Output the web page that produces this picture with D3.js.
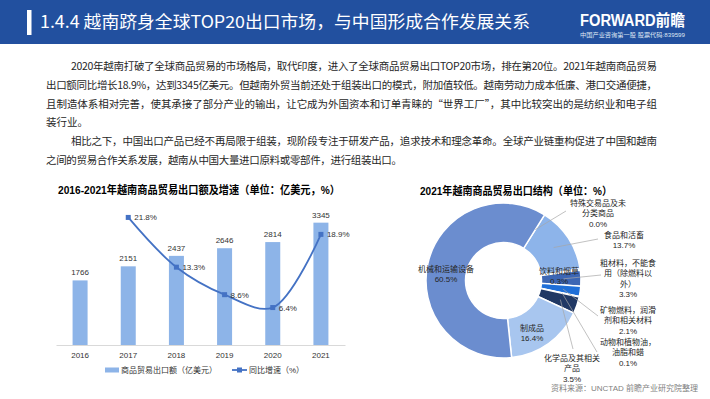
<!DOCTYPE html>
<html>
<head>
<meta charset="utf-8">
<script src="https://cdn.jsdelivr.net/npm/d3@7"></script>
<style>
  body { margin: 0; background: #fff; }
  svg { display: block; font-family: "Liberation Sans", "Noto Sans CJK SC", sans-serif; }
</style>
</head>
<body>
<script>
// data
var years = ["2016", "2017", "2018", "2019", "2020", "2021"];
var exportValues = [1766, 2151, 2437, 2646, 2814, 3345];
var growthRates = [null, 21.8, 13.3, 8.6, 6.4, 18.9];

var structureNames = ["特殊交易品及未分类商品", "食品和活畜", "饮料和烟草", "粗材料，不能食用（除燃料以外）",
  "矿物燃料，润滑剂和相关材料", "动物和植物油，油脂和蜡", "化学品及其相关产品", "制成品", "机械和运输设备"];
var structureShares = [0.0, 13.7, 0.3, 3.3, 2.1, 0.1, 3.5, 16.4, 60.5];

var headerTitle = "1.4.4 越南跻身全球TOP20出口市场，与中国形成合作发展关系";
var paragraphLines = [
  "2020年越南打破了全球商品贸易的市场格局，取代印度，进入了全球商品贸易出口TOP20市场，排在第20位。2021年越南商品贸易",
  "出口额同比增长18.9%，达到3345亿美元。但越南外贸当前还处于组装出口的模式，附加值较低。越南劳动力成本低廉、港口交通便捷，",
  "且制造体系相对完善，使其承接了部分产业的输出，让它成为外国资本和订单青睐的“世界工厂”，其中比较突出的是纺织业和电子组",
  "装行业。",
  "相比之下，中国出口产品已经不再局限于组装，现阶段专注于研发产品，追求技术和理念革命。全球产业链重构促进了中国和越南",
  "之间的贸易合作关系发展，越南从中国大量进口原料或零部件，进行组装出口。"
];

var W = 710, H = 399;
var svg = d3.select("body").append("svg").attr("width", W).attr("height", H);

// header band
svg.append("rect").attr("x", 0).attr("y", 0).attr("width", W).attr("height", 44).attr("fill", "#22509f");
svg.append("rect").attr("x", 27).attr("y", 10).attr("width", 4.5).attr("height", 25).attr("fill", "#fff");
svg.append("text")
  .attr("x", 40).attr("y", 28)
  .attr("fill", "#fff")
  .attr("font-size", 17)
  .attr("textLength", 490).attr("lengthAdjust", "spacingAndGlyphs")
  .style("font-family", "'Noto Sans CJK SC', sans-serif")
  .text(headerTitle);
svg.append("text")
  .attr("x", 580).attr("y", 26)
  .attr("fill", "#fff").attr("font-size", 16).attr("font-weight", "bold")
  .attr("textLength", 105).attr("lengthAdjust", "spacingAndGlyphs")
  .text("FORWARD前瞻");
svg.append("text")
  .attr("x", 580).attr("y", 37)
  .attr("fill", "#dfe6f3").attr("font-size", 6)
  .attr("textLength", 105).attr("lengthAdjust", "spacingAndGlyphs")
  .text("中国产业咨询第一股  股票代码:839599");

// paragraph
var paraX = [71, 46, 46, 46, 71, 46];
var paraEnd = [657, 657, 657, null, 657, 402];
paragraphLines.forEach(function(line, i) {
  var t = svg.append("text")
    .attr("x", paraX[i]).attr("y", 70 + i * 18.8)
    .attr("font-size", 10.5).attr("fill", "#262626")
    .style("font-family", "'Noto Sans CJK SC', sans-serif")
    .text(line);
  if (paraEnd[i]) t.attr("textLength", paraEnd[i] - paraX[i]).attr("lengthAdjust", "spacing");
});

// ---------- left chart: bars + growth line ----------
var xScale = d3.scaleBand().domain(years).range([56, 345]);
var yScale = d3.scaleLinear().domain([0, 4000]).range([345, 198.7]);
var y2Scale = d3.scaleLinear().domain([0, 25]).range([345, 198.7]);
var barW = 15;

svg.append("text")
  .attr("x", 199).attr("y", 194)
  .attr("text-anchor", "middle").attr("font-size", 11).attr("font-weight", "bold").attr("fill", "#000")
  .attr("textLength", 282).attr("lengthAdjust", "spacingAndGlyphs")
  .text("2016-2021年越南商品贸易出口额及增速（单位：亿美元，%）");

var barData = years.map(function(y, i) { return { year: y, value: exportValues[i], rate: growthRates[i] }; });

svg.selectAll("rect.bar").data(barData).enter().append("rect")
  .attr("class", "bar")
  .attr("x", function(d) { return xScale(d.year) + xScale.bandwidth() / 2 - barW / 2; })
  .attr("y", function(d) { return yScale(d.value); })
  .attr("width", barW)
  .attr("height", function(d) { return yScale(0) - yScale(d.value); })
  .attr("fill", "#8db4e8");

svg.selectAll("text.barlabel").data(barData).enter().append("text")
  .attr("class", "barlabel")
  .attr("x", function(d) { return xScale(d.year) + xScale.bandwidth() / 2; })
  .attr("y", function(d) { return yScale(d.value) - 5; })
  .attr("text-anchor", "middle").attr("font-size", 8).attr("fill", "#333")
  .text(function(d) { return d.value; });

// x axis
var xAxis = d3.axisBottom(xScale).tickSize(0).tickPadding(7);
var gx = svg.append("g").attr("transform", "translate(0,345)").call(xAxis);
gx.select(".domain").attr("stroke", "#d9d9d9");
gx.selectAll("text").attr("font-size", 8).attr("fill", "#333").style("font-family", "'Liberation Sans', sans-serif");

// growth line
var lineData = barData.filter(function(d) { return d.rate != null; });
var line = d3.line()
  .x(function(d) { return xScale(d.year) + xScale.bandwidth() / 2; })
  .y(function(d) { return y2Scale(d.rate); })
  .curve(d3.curveCatmullRom.alpha(0.5));
svg.append("path").datum(lineData)
  .attr("d", line).attr("fill", "none").attr("stroke", "#4472c4").attr("stroke-width", 1.8);
svg.selectAll("rect.marker").data(lineData).enter().append("rect")
  .attr("class", "marker")
  .attr("x", function(d) { return xScale(d.year) + xScale.bandwidth() / 2 - 2.5; })
  .attr("y", function(d) { return y2Scale(d.rate) - 2.5; })
  .attr("width", 5).attr("height", 5).attr("fill", "#4472c4");
svg.selectAll("text.ratelabel").data(lineData).enter().append("text")
  .attr("class", "ratelabel")
  .attr("x", function(d) { return xScale(d.year) + xScale.bandwidth() / 2 + 6; })
  .attr("y", function(d) { return y2Scale(d.rate) + 3; })
  .attr("font-size", 8).attr("fill", "#333")
  .text(function(d) { return d.rate.toFixed(1) + "%"; });

// legend
var lg = svg.append("g").attr("transform", "translate(0,370)");
lg.append("rect").attr("x", 105).attr("y", -2.5).attr("width", 14).attr("height", 5).attr("fill", "#8db4e8");
lg.append("text").attr("x", 121).attr("y", 3).attr("font-size", 8).attr("fill", "#333").text("商品贸易出口额（亿美元）");
lg.append("line").attr("x1", 232).attr("x2", 247).attr("y1", 0).attr("y2", 0).attr("stroke", "#4472c4").attr("stroke-width", 1.8);
lg.append("rect").attr("x", 237).attr("y", -2.5).attr("width", 5).attr("height", 5).attr("fill", "#4472c4");
lg.append("text").attr("x", 249).attr("y", 3).attr("font-size", 8).attr("fill", "#333").text("同比增速（%）");

// ---------- right chart: donut ----------
svg.append("text")
  .attr("x", 516).attr("y", 195)
  .attr("text-anchor", "middle").attr("font-size", 11).attr("font-weight", "bold").attr("fill", "#000")
  .attr("textLength", 192).attr("lengthAdjust", "spacingAndGlyphs")
  .text("2021年越南商品贸易出口结构（单位：%）");

var sliceColors = ["#8db4ea", "#8db4ea", "#4a74c4", "#3c66b4", "#1f6fd8", "#2a4a86", "#203864", "#a8c6ef", "#6b8dcf"];
var cx = 503.5, cy = 280.5;
var startA = 32 * Math.PI / 180;
var pie = d3.pie().sort(null).value(function(d) { return d.share; })
  .startAngle(startA).endAngle(startA + 2 * Math.PI);
var arc = d3.arc().innerRadius(38).outerRadius(77.5);
var leaderArc = d3.arc().innerRadius(60).outerRadius(60);

var structData = structureNames.map(function(n, i) { return { name: n, share: structureShares[i], color: sliceColors[i] }; });
var arcs = pie(structData);

var dg = svg.append("g").attr("transform", "translate(" + cx + "," + cy + ")");
dg.selectAll("path").data(arcs).enter().append("path")
  .attr("d", arc)
  .attr("fill", function(d) { return d.data.color; })
  .attr("stroke", "#fff").attr("stroke-width", 1.5);

// label layout (centre x, first line y, line breaks, leader start)
var labelLayout = [
  { x: 598, y: 203, lines: ["特殊交易品及未", "分类商品"], lead: [566, 211] },
  { x: 624, y: 235, lines: ["食品和活畜"], lead: [598, 239] },
  { x: 559, y: 271, lines: ["饮料和烟草"], lead: null },
  { x: 628, y: 263, lines: ["粗材料，不能食", "用（除燃料以", "外）"], lead: [601, 275] },
  { x: 628, y: 310, lines: ["矿物燃料，润滑", "剂和相关材料"], lead: [598, 316] },
  { x: 628, y: 342, lines: ["动物和植物油，", "油脂和蜡"], lead: [597, 352] },
  { x: 572, y: 358, lines: ["化学品及其相关", "产品"], lead: [573, 349] },
  { x: 532, y: 328, lines: ["制成品"], lead: null },
  { x: 446, y: 269, lines: ["机械和运输设备"], lead: null }
];

arcs.forEach(function(d, i) {
  var L = labelLayout[i];
  if (L.lead) {
    var p = leaderArc.centroid(d);
    svg.append("line")
      .attr("x1", L.lead[0]).attr("y1", L.lead[1])
      .attr("x2", cx + p[0]).attr("y2", cy + p[1])
      .attr("stroke", "#a6a6a6").attr("stroke-width", 0.7);
  }
  var rows = L.lines.concat([d.data.share.toFixed(1) + "%"]);
  var t = svg.append("text").attr("text-anchor", "middle").attr("font-size", 8).attr("fill", "#262626");
  rows.forEach(function(r, k) {
    t.append("tspan").attr("x", L.x).attr("y", L.y + 3 + k * 10.3).text(r);
  });
});

// source
svg.append("text")
  .attr("x", 698).attr("y", 391)
  .attr("text-anchor", "end").attr("font-size", 8).attr("fill", "#7f7f7f")
  .text("资料来源：UNCTAD 前瞻产业研究院整理");
</script>
</body>
</html>
